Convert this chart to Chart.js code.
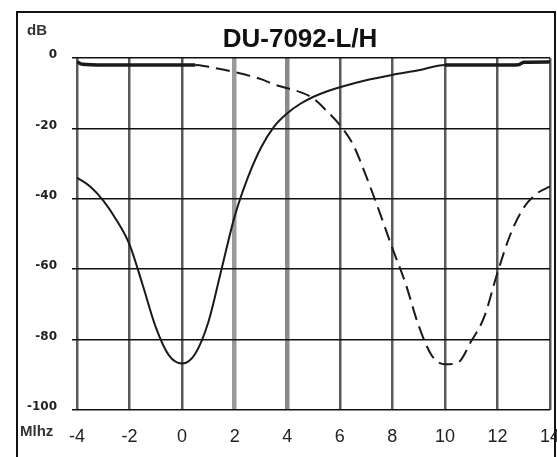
<!DOCTYPE html>
<html>
<head>
<meta charset="utf-8">
<script src="https://cdn.jsdelivr.net/npm/chart.js@4/dist/chart.umd.min.js"></script>
<style>
  body { margin: 0; background: #fff; }
  canvas { display: block; }
</style>
</head>
<body>
<canvas id="chart" width="557" height="457"></canvas>
<script>
// solid curve, notch at 0 MHz
solidMhz = [-4, -3.5, -3, -2.5, -2, -1.5, -1, -0.5, 0, 0.5, 1, 1.5, 2, 2.5, 3, 3.5, 4, 4.5, 5, 5.5, 6, 7, 8, 9, 10, 11, 12, 12.8, 13, 14];
solidDb  = [-34, -36.5, -40.5, -46, -53, -64.5, -76.5, -84.5, -86.8, -84, -75, -60, -45, -34, -25.5, -19.5, -15.7, -13, -11, -9.5, -8.3, -6.3, -4.8, -3.5, -2, -2, -2, -1.9, -1.2, -1.1];

// dashed curve, notch at 10 MHz
dashMhz = [-4, -3.8, -3, -2, -1, 0, 0.5, 1, 2, 3, 3.5, 4, 4.5, 5, 5.5, 6, 6.5, 7, 7.5, 8, 8.5, 9, 9.5, 10, 10.5, 11, 11.5, 12, 12.5, 13, 13.5, 14];
dashDb  = [-1.1, -1.8, -2, -2, -2, -2, -2, -2.5, -4, -6, -7.5, -8.6, -9.7, -11.5, -15, -19, -24.5, -33.5, -43.5, -54, -64, -76, -84.5, -87, -86.5, -80.5, -73.5, -61, -50, -42.5, -38.5, -36.5];

xTicks = [-4, -2, 0, 2, 4, 6, 8, 10, 12, 14];
yTicks = [0, -20, -40, -60, -80, -100];

title = "DU-7092-L/H";
yUnit = "dB";
xUnit = "Mlhz";

function pts(xs, ys) {
    let out = [];
    for (let i = 0; i < xs.length; i++) out.push({ x: xs[i], y: ys[i] });
    return out;
}

const framePlugin = {
    id: 'frame',
    beforeDraw(chart) {
        const c = chart.ctx;
        c.save();
        c.fillStyle = '#fff';
        c.fillRect(0, 0, chart.width, chart.height);
        c.strokeStyle = '#111';
        c.lineWidth = 2;
        c.strokeRect(17, 12, 538, 470);
        c.restore();
    },
    afterDraw(chart) {
        const c = chart.ctx;
        c.save();
        c.fillStyle = '#111';
        c.textAlign = 'center';
        c.textBaseline = 'alphabetic';
        c.font = 'bold 26px "Liberation Sans", Arial, sans-serif';
        c.fillText(title, 300, 47);
        c.fillStyle = '#333';
        c.textAlign = 'left';
        c.font = 'bold 15px "Liberation Sans", Arial, sans-serif';
        c.fillText(yUnit, 27, 35);
        c.fillText(xUnit, 20, 436);
        c.restore();
    }
};

new Chart(document.getElementById('chart'), {
    type: 'line',
    data: {
        datasets: [{
            label: 'solid',
            data: pts(solidMhz, solidDb),
            borderColor: '#1a1a1a',
            borderWidth: 2,
            pointRadius: 0,
            cubicInterpolationMode: 'monotone',
            segment: {
                borderWidth: ctx => ctx.p0.parsed.x >= 10 ? 3.5 : 2
            }
        }, {
            label: 'dashed',
            data: pts(dashMhz, dashDb),
            borderColor: '#1a1a1a',
            borderWidth: 2,
            pointRadius: 0,
            cubicInterpolationMode: 'monotone',
            segment: {
                borderDash: ctx => ctx.p1.parsed.x <= 0.5 ? [] : [14, 7],
                borderWidth: ctx => ctx.p1.parsed.x <= 0.5 ? 3.5 : 2
            }
        }]
    },
    options: {
        responsive: false,
        animation: false,
        layout: { padding: { top: 58, right: 7, left: 0, bottom: 0 } },
        plugins: {
            legend: { display: false },
            tooltip: { enabled: false },
            title: { display: false }
        },
        scales: {
            x: {
                type: 'linear',
                min: -4,
                max: 14,
                afterBuildTicks: s => { s.ticks = xTicks.map(v => ({ value: v })); },
                afterFit: s => { s.height = 47; s.paddingLeft = 0; s.paddingRight = 0; },
                border: { display: false },
                grid: {
                    drawTicks: false,
                    color: ctx => (ctx.tick && ctx.tick.value === 4) ? '#8a8a8a' : (ctx.tick && ctx.tick.value === 2) ? '#9a9a9a' : '#5a5a5a',
                    lineWidth: ctx => (ctx.tick && (ctx.tick.value === 4 || ctx.tick.value === 2)) ? 4.5 : 2.5
                },
                ticks: {
                    padding: 16,
                    maxRotation: 0,
                    color: '#222',
                    font: { family: '"Liberation Sans", Arial, sans-serif', size: 18 }
                }
            },
            y: {
                min: -100,
                max: 0,
                afterBuildTicks: s => { s.ticks = yTicks.map(v => ({ value: v })); },
                afterFit: s => { s.width = 77; },
                border: { display: false },
                grid: {
                    color: '#111',
                    lineWidth: 1.5,
                    tickLength: 5
                },
                ticks: {
                    padding: 15,
                    labelOffset: -3,
                    color: '#222',
                    font: { family: '"DejaVu Sans", sans-serif', size: 12, weight: 'bold' }
                }
            }
        }
    },
    plugins: [framePlugin]
});
</script>
</body>
</html>
